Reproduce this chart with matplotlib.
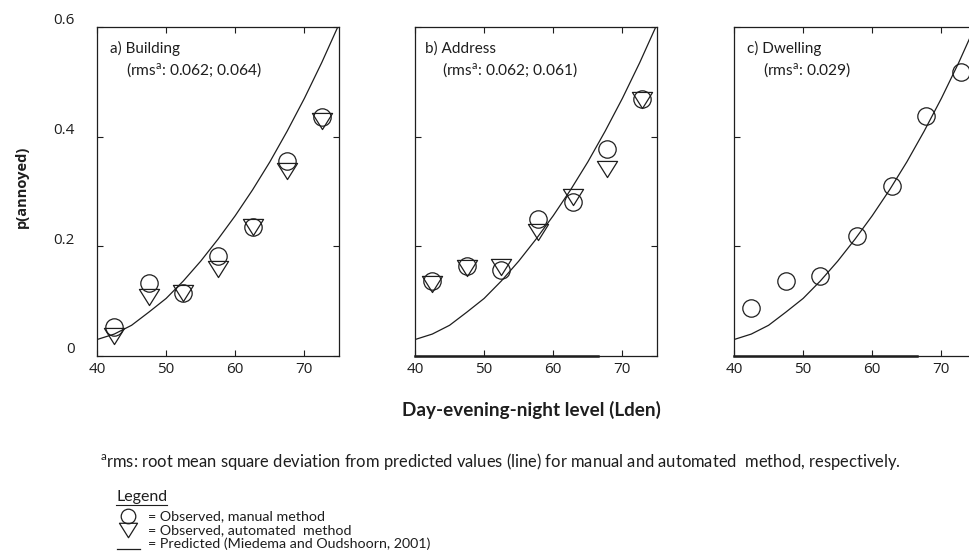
import matplotlib
matplotlib.use("Agg")
import matplotlib.pyplot as plt
from matplotlib.path import Path
from matplotlib.transforms import ScaledTranslation
from matplotlib.lines import Line2D

plt.rcParams["mathtext.fontset"] = "custom"
plt.rcParams["mathtext.rm"] = "Lato"
plt.rcParams["mathtext.it"] = "Lato:italic"

# Sound levels (Lden, dB) of the observation classes
lden_a = [42.5, 47.5, 52.5, 57.5, 62.5, 67.5, 72.5]
lden_b = [42.5, 47.5, 52.5, 57.8, 62.8, 67.8, 72.8]
lden_c = [42.5, 47.5, 52.5, 57.8, 62.8, 67.8, 72.8]

# Observed proportion annoyed
building_manual = [0.052, 0.133, 0.114, 0.182, 0.236, 0.355, 0.435]
building_auto = [0.037, 0.108, 0.115, 0.159, 0.236, 0.337, 0.428]
address_manual = [0.137, 0.165, 0.156, 0.250, 0.280, 0.378, 0.468]
address_auto = [0.132, 0.160, 0.162, 0.226, 0.290, 0.341, 0.466]
dwelling_manual = [0.087, 0.136, 0.146, 0.218, 0.310, 0.438, 0.518]

# Predicted curve (Miedema and Oudshoorn, 2001)
curve_lden = [40, 42.5, 45, 47.5, 50, 52.5, 55, 57.5, 60, 62.5, 65, 67.5, 70, 72.5, 75]
curve_p = [0.030, 0.040, 0.056, 0.080, 0.105, 0.137, 0.173, 0.213, 0.256,
           0.303, 0.354, 0.410, 0.470, 0.535, 0.605]

panel_titles = ["a) Building", "b) Address", "c) Dwelling"]
panel_rms = ["(rms$^{\\mathrm{a}}$: 0.062; 0.064)",
             "(rms$^{\\mathrm{a}}$: 0.062; 0.061)",
             "(rms$^{\\mathrm{a}}$: 0.029)"]
x_ticks = [40, 50, 60, 70]
y_ticks = [0, 0.2, 0.4, 0.6]
y_ticklabels = ["0", "0.2", "0.4", "0.6"]

INK = "#1e1e1e"
TICK_FONT = "Open Sans"
TEXT_FONT = "Lato"

# flattened downward triangle
tri = Path([(-1.0, 0.8), (1.0, 0.8), (0.0, -0.8), (-1.0, 0.8)],
           [Path.MOVETO, Path.LINETO, Path.LINETO, Path.CLOSEPOLY])

W, H = 969, 551
fig = plt.figure(figsize=(W / 100, H / 100), dpi=100)


def px_axes(left, right, top, bottom):
    return fig.add_axes([left / W, 1 - bottom / H, (right - left) / W, (bottom - top) / H])


axes = [px_axes(97, 339, 27, 356), px_axes(415, 657, 27, 356), px_axes(734, 976, 27, 356)]

series = [
    (lden_a, building_manual, building_auto),
    (lden_b, address_manual, address_auto),
    (lden_c, dwelling_manual, None),
]

for i, (ax, (xs, man, auto)) in enumerate(zip(axes, series)):
    ax.plot(curve_lden, curve_p, color=INK, lw=0.9, zorder=2)
    ax.plot(xs, man, linestyle="none", marker="o", ms=12.5, mfc="none",
            mec=INK, mew=0.9, zorder=3)
    if auto is not None:
        ax.plot(xs, auto, linestyle="none", marker=tri, ms=14.5, mfc="none",
                mec=INK, mew=0.9, zorder=3)
    ax.set_xlim(40, 75)
    ax.set_ylim(0, 0.6)
    ax.set_xticks(x_ticks)
    ax.set_yticks(y_ticks)
    ax.tick_params(direction="in", length=4, width=0.8, color=INK,
                   top=True, right=True, labelsize=11, pad=4)
    for lab in ax.get_xticklabels():
        lab.set_fontfamily(TICK_FONT)
        lab.set_color(INK)
    if i == 0:
        ax.set_yticklabels(y_ticklabels)
        ax.tick_params(axis="y", pad=16)
        for lab in ax.get_yticklabels():
            lab.set_fontfamily(TICK_FONT)
            lab.set_color(INK)
            lab.set_transform(lab.get_transform()
                              + ScaledTranslation(0, 6 / 72, fig.dpi_scale_trans))
    else:
        ax.set_yticklabels([])
        # heavier stroke along the lower frame edge
        ax.plot([40, 66.5], [0, 0], color=INK, lw=1.8, clip_on=False, zorder=4)
    for sp in ax.spines.values():
        sp.set_linewidth(0.9)
        sp.set_color(INK)
    ax.text(0.054 if i != 1 else 0.041, 0.936, panel_titles[i], transform=ax.transAxes,
            fontfamily=TEXT_FONT, fontsize=11, color=INK, va="center", ha="left")
    ax.text(0.12 if i != 1 else 0.11, 0.869, panel_rms[i], transform=ax.transAxes,
            fontfamily=TEXT_FONT, fontsize=11.2, color=INK, va="center", ha="left")

fig.text(22 / W, 1 - 187 / H, "p(annoyed)", rotation=90, fontfamily=TICK_FONT,
         fontweight="bold", fontsize=10.5, color=INK, ha="center", va="center")
fig.text(531 / W, 1 - 410 / H, "Day-evening-night level (Lden)", fontfamily=TEXT_FONT,
         fontweight="bold", fontsize=13.6, color=INK, ha="center", va="center")
fig.text(100 / W, 1 - 462 / H,
         "$^{\\mathrm{a}}$rms: root mean square deviation from predicted values (line) "
         "for manual and automated  method, respectively.",
         fontfamily=TEXT_FONT, fontsize=11.9, color=INK, ha="left", va="center")

# legend block
fig.text(116 / W, 1 - 497 / H, "Legend", fontfamily=TEXT_FONT, fontsize=11.5,
         color=INK, ha="left", va="center")
fig.add_artist(Line2D([116 / W, 167 / W], [1 - 505 / H, 1 - 505 / H], color=INK, lw=0.8))
rows = [(516, "o", "= Observed, manual method"),
        (530, tri, "= Observed, automated  method"),
        (544, None, "= Predicted (Miedema and Oudshoorn, 2001)")]
for y, m, label in rows:
    yy = 1 - y / H
    if m is None:
        fig.add_artist(Line2D([117 / W, 140 / W], [yy - 5 / H, yy - 5 / H], color=INK, lw=0.9))
    else:
        fig.add_artist(Line2D([128 / W], [yy], marker=m,
                              ms=10.5 if m == "o" else 13,
                              mfc="none", mec=INK, mew=0.9, linestyle="none"))
    fig.text(148 / W, yy, label, fontfamily=TEXT_FONT, fontsize=10.3, color=INK,
             ha="left", va="center")

fig.savefig("out.png", dpi=100, facecolor="white")
